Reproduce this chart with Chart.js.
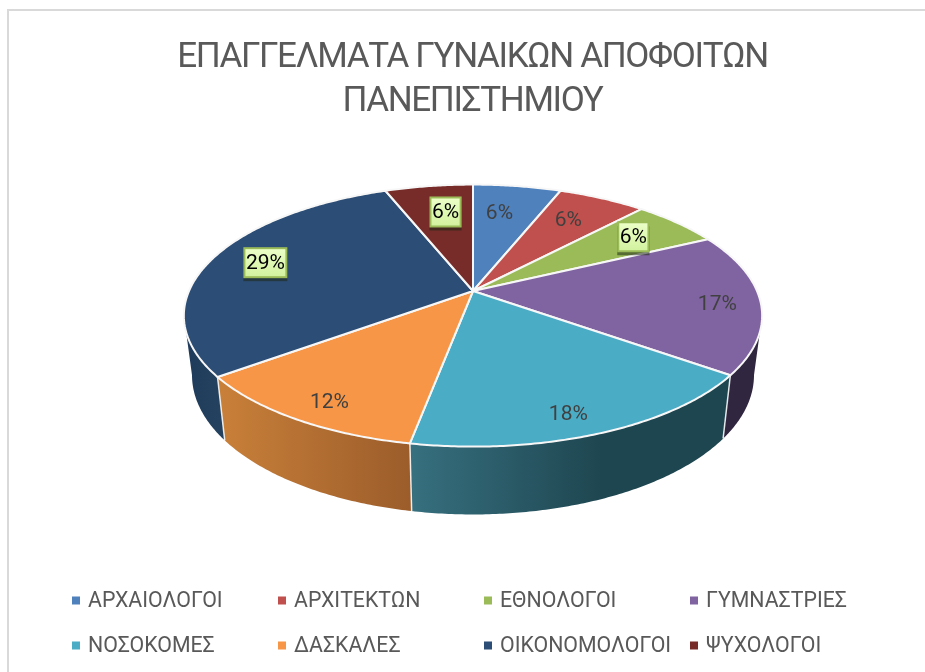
<!DOCTYPE html>
<html>
<head>
<meta charset="utf-8">
<style>html,body{margin:0;padding:0;background:#fff}canvas{display:block}</style>
<script src="https://cdn.jsdelivr.net/npm/chart.js@4"></script>
</head>
<body>
<canvas id="c" width="925" height="672"></canvas>
<script>
const categories = ['ΑΡΧΑΙΟΛΟΓΟΙ','ΑΡΧΙΤΕΚΤΩΝ','ΕΘΝΟΛΟΓΟΙ','ΓΥΜΝΑΣΤΡΙΕΣ','ΝΟΣΟΚΟΜΕΣ','ΔΑΣΚΑΛΕΣ','ΟΙΚΟΝΟΜΟΛΟΓΟΙ','ΨΥΧΟΛΟΓΟΙ'];
const values = [5.9,5.9,5.9,17.4,17.8,11.8,29.4,5.9];
const titleLines = ['ΕΠΑΓΓΕΛΜΑΤΑ ΓΥΝΑΙΚΩΝ ΑΠΟΦΟΙΤΩΝ','ΠΑΝΕΠΙΣΤΗΜΙΟΥ'];
const topColors = ['#4F81BD','#C0504D','#9BBB59','#8064A2','#4BACC6','#F79646','#2C4D75','#772C2A'];
const wallLeft  = ['#2F4D71','#73302E','#5D7035','#31263F','#37707F','#C98039','#1F3A5B','#471A19'];
const wallRight = ['#2F4D71','#73302E','#5D7035','#31263F','#1E4650','#9C5D2B','#24425F','#471A19'];
const boxedLabels = [false,false,true,false,false,false,true,true];
const labelNudge = [[-6,-1],[1,-4],[13,-5],[44,5],[12,29],[-26,26],[-23,-5],[5,-2]];

const FONT = 'Roboto, sans-serif';
const CX = 473, P = -0.1877;
const TOP = {a:284, b:126.4, y0:291};
const BOT = {a:276, b:134.4, y0:349};
const project = (plane, angle, r) => {
  const u = r*Math.cos(angle), v = r*Math.sin(angle), d = 1 + P*v;
  return [CX + plane.a*u/d, plane.y0 + plane.b*v/d];
};
const VIS = Math.asin(-P);

function tracePlaneArc(ctx, plane, a0, a1, first) {
  const n = Math.max(2, Math.ceil(Math.abs(a1-a0)/0.01));
  for (let i=0;i<=n;i++) {
    const p = project(plane, a0+(a1-a0)*i/n, 1);
    if (i===0 && first) ctx.moveTo(p[0],p[1]); else ctx.lineTo(p[0],p[1]);
  }
}

const pie3d = {
  id:'pie3d',
  beforeDraw(chart){
    const ctx = chart.ctx;
    ctx.save();
    ctx.fillStyle = '#fff';
    ctx.fillRect(0,0,chart.width,chart.height);
    ctx.fillStyle = '#D9D9D9';
    ctx.fillRect(7,9,chart.width-7,2);
    ctx.fillRect(7,9,2,chart.height-9);
    ctx.restore();
    ctx.letterSpacing = '-1.35px';   // the title font runs wider than the reference face
  },
  beforeDatasetsDraw(chart){
    const ctx = chart.ctx, arcs = chart.getDatasetMeta(0).data;
    ctx.letterSpacing = '0px';
    ctx.save();
    // side walls
    arcs.forEach((arc,i)=>{
      const a0 = Math.max(arc.startAngle, VIS), a1 = Math.min(arc.endAngle, Math.PI-VIS);
      if (a1 <= a0) return;
      const s = project(TOP,a0,1), e = project(TOP,a1,1);
      const g = ctx.createLinearGradient(Math.max(s[0],e[0]),0,Math.min(s[0],e[0]),0);
      g.addColorStop(0, wallRight[i]);
      g.addColorStop(i===4 ? 0.4 : 0, wallRight[i]);
      g.addColorStop(1, wallLeft[i]);
      ctx.beginPath();
      tracePlaneArc(ctx,TOP,a0,a1,true);
      tracePlaneArc(ctx,BOT,a1,a0,false);
      ctx.closePath();
      ctx.fillStyle = g;
      ctx.fill();
    });
    // wall separators
    ctx.strokeStyle = 'rgba(255,255,255,0.85)';
    ctx.lineWidth = 1.5;
    arcs.forEach(arc=>{
      if (arc.endAngle > VIS && arc.endAngle < Math.PI-VIS) {
        const t = project(TOP,arc.endAngle,1), b = project(BOT,arc.endAngle,1);
        ctx.beginPath(); ctx.moveTo(t[0],t[1]); ctx.lineTo(b[0],b[1]); ctx.stroke();
      }
    });
    // top faces
    ctx.lineJoin = 'round';
    arcs.forEach((arc,i)=>{
      ctx.beginPath();
      ctx.moveTo(CX,TOP.y0);
      tracePlaneArc(ctx,TOP,arc.startAngle,arc.endAngle,false);
      ctx.closePath();
      ctx.fillStyle = topColors[i];
      ctx.fill();
      ctx.strokeStyle = '#F7F7F7';
      ctx.lineWidth = 2;
      ctx.stroke();
    });
    ctx.restore();
    return false;
  },
  afterDraw(chart){
    const ctx = chart.ctx, arcs = chart.getDatasetMeta(0).data;
    const total = values.reduce((s,v)=>s+v,0);
    ctx.save();
    // data labels
    ctx.font = '21px '+FONT;
    ctx.textAlign = 'center';
    ctx.textBaseline = 'middle';
    arcs.forEach((arc,i)=>{
      const mid = (arc.startAngle+arc.endAngle)/2;
      const p = project(TOP,mid,0.7);
      const x = p[0]+labelNudge[i][0], y = p[1]+labelNudge[i][1];
      const text = Math.round(values[i]/total*100)+'%';
      if (boxedLabels[i]) {
        const w = ctx.measureText(text).width+3, h = 29;
        ctx.fillStyle = 'rgba(30,40,20,0.55)';
        ctx.fillRect(x-w/2-1,y-h/2+4,w+2,h);
        const g = ctx.createLinearGradient(0,y-h/2,0,y+h/2);
        g.addColorStop(0,'#ECFFC8'); g.addColorStop(1,'#D2F29E');
        ctx.fillStyle = g;
        ctx.fillRect(x-w/2,y-h/2,w,h);
        ctx.strokeStyle = '#9BBB59'; ctx.lineWidth = 2;
        ctx.strokeRect(x-w/2,y-h/2,w,h);
        ctx.fillStyle = '#000';
      } else {
        ctx.fillStyle = '#404040';
      }
      ctx.fillText(text,x,y+1);
    });
    // legend
    ctx.textAlign = 'left';
    ctx.font = '21.3px '+FONT;
    categories.forEach((name,i)=>{
      const col = i%4, row = Math.floor(i/4);
      const x = 72+col*206, y = 600.5+row*45;
      ctx.fillStyle = topColors[i];
      ctx.fillRect(x,y-4,8,8);
      ctx.fillStyle = '#595959';
      ctx.fillText(name,x+16,y+1.5);
    });
    ctx.restore();
  }
};

new Chart(document.getElementById('c'),{
  type:'pie',
  data:{labels:categories,datasets:[{data:values,backgroundColor:topColors,borderColor:'#fff',borderWidth:2}]},
  options:{
    responsive:false,
    animation:false,
    layout:{padding:{top:36,bottom:0,left:20,right:0}},
    plugins:{
      legend:{display:false},
      tooltip:{enabled:false},
      title:{display:true,text:titleLines,color:'#595959',padding:0,
        font:{family:FONT,size:35,weight:400,lineHeight:1.26}}
    }
  },
  plugins:[pie3d]
});
</script>
</body>
</html>
